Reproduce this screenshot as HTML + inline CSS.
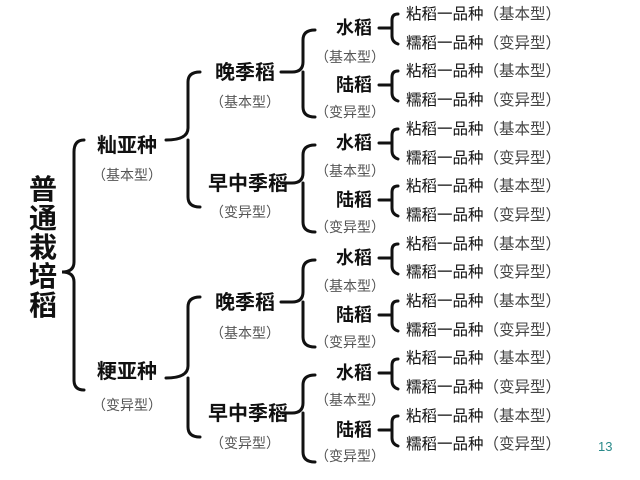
<!DOCTYPE html>
<html><head><meta charset="utf-8"><style>
body{margin:0;background:#fff}
svg{display:block}
text{font-family:"Liberation Sans","Noto Sans CJK SC",sans-serif}
.b{font-weight:bold;fill:#111}
.g{fill:#555;font-size:14px}
.lf{font-size:15.5px;fill:#111}
path{fill:none;stroke:#111;stroke-width:3;stroke-linecap:round}
</style></head><body>
<svg width="640" height="480" viewBox="0 0 640 480">
<g class="b" font-size="28" text-anchor="middle">
<text x="43" y="199">普</text><text x="43" y="228">通</text><text x="43" y="257">栽</text><text x="43" y="286">培</text><text x="43" y="315">稻</text>
</g>
<path d="M84 140 Q74 140 74 152 L74 262 Q74 272 62 272 Q74 272 74 282 L74 380 Q74 390 84 390"/>
<text class="b" x="127" y="152" font-size="20" text-anchor="middle">籼亚种</text>
<text class="g" x="127" y="180" text-anchor="middle">（基本型）</text>
<text class="b" x="127" y="378" font-size="20" text-anchor="middle">粳亚种</text>
<text class="g" x="127" y="410" text-anchor="middle">（变异型）</text>
<path d="M166 140 Q188 140 188 128 L188 82 Q188 72 200 72 M188 140 L188 197 Q188 207 200 207"/>
<path d="M166 378 Q188 378 188 366 L188 307 Q188 297 200 297 M188 378 L188 427 Q188 437 200 437"/>
<g class="b" font-size="20" text-anchor="middle">
<text x="245" y="79">晚季稻</text><text x="248" y="190">早中季稻</text>
<text x="245" y="309">晚季稻</text><text x="248" y="420">早中季稻</text>
</g>
<g class="g" text-anchor="middle">
<text x="245" y="107">（基本型）</text><text x="245" y="217">（变异型）</text>
<text x="245" y="338">（基本型）</text><text x="245" y="448">（变异型）</text>
</g>
<path d="M281 72 L292 72 Q303 72 303 62 L303 40 Q303 30 315 30 M303 72 L303 107 Q303 117 315 117"/>
<path d="M281 183 L292 183 Q303 183 303 173 L303 155 Q303 145 315 145 M303 183 L303 222 Q303 232 315 232"/>
<path d="M281 302 L292 302 Q303 302 303 292 L303 270 Q303 260 315 260 M303 302 L303 337 Q303 347 315 347"/>
<path d="M281 413 L292 413 Q303 413 303 403 L303 385 Q303 375 315 375 M303 413 L303 452 Q303 462 315 462"/>
<g class="b" font-size="18" text-anchor="middle">
<text x="354" y="34">水稻</text><text x="354" y="91">陆稻</text>
<text x="354" y="149">水稻</text><text x="354" y="206">陆稻</text>
<text x="354" y="264">水稻</text><text x="354" y="321">陆稻</text>
<text x="354" y="379">水稻</text><text x="354" y="436">陆稻</text>
</g>
<g class="g" text-anchor="middle">
<text x="350" y="62">（基本型）</text><text x="350" y="117">（变异型）</text>
<text x="350" y="176">（基本型）</text><text x="350" y="232">（变异型）</text>
<text x="350" y="291">（基本型）</text><text x="350" y="347">（变异型）</text>
<text x="350" y="405">（基本型）</text><text x="350" y="461">（变异型）</text>
</g>
<g><path d="M379 28 L392 28 M398 14 Q392 14 392 20 L392 36 Q392 42 398 44"/><path d="M379 85 L392 85 M398 71 Q392 71 392 77 L392 93 Q392 99 398 101"/></g>
<g transform="translate(0,115)"><path d="M379 28 L392 28 M398 14 Q392 14 392 20 L392 36 Q392 42 398 44"/><path d="M379 85 L392 85 M398 71 Q392 71 392 77 L392 93 Q392 99 398 101"/></g>
<g transform="translate(0,230)"><path d="M379 28 L392 28 M398 14 Q392 14 392 20 L392 36 Q392 42 398 44"/><path d="M379 85 L392 85 M398 71 Q392 71 392 77 L392 93 Q392 99 398 101"/></g>
<g transform="translate(0,345)"><path d="M379 28 L392 28 M398 14 Q392 14 392 20 L392 36 Q392 42 398 44"/><path d="M379 85 L392 85 M398 71 Q392 71 392 77 L392 93 Q392 99 398 101"/></g>
<g class="lf">
<text x="406" y="19">粘稻一品种<tspan fill="#444">（基本型）</tspan></text>
<text x="406" y="48">糯稻一品种<tspan fill="#444">（变异型）</tspan></text>
<text x="406" y="76">粘稻一品种<tspan fill="#444">（基本型）</tspan></text>
<text x="406" y="105">糯稻一品种<tspan fill="#444">（变异型）</tspan></text>
<text x="406" y="134">粘稻一品种<tspan fill="#444">（基本型）</tspan></text>
<text x="406" y="163">糯稻一品种<tspan fill="#444">（变异型）</tspan></text>
<text x="406" y="191">粘稻一品种<tspan fill="#444">（基本型）</tspan></text>
<text x="406" y="220">糯稻一品种<tspan fill="#444">（变异型）</tspan></text>
<text x="406" y="249">粘稻一品种<tspan fill="#444">（基本型）</tspan></text>
<text x="406" y="277">糯稻一品种<tspan fill="#444">（变异型）</tspan></text>
<text x="406" y="306">粘稻一品种<tspan fill="#444">（基本型）</tspan></text>
<text x="406" y="335">糯稻一品种<tspan fill="#444">（变异型）</tspan></text>
<text x="406" y="363">粘稻一品种<tspan fill="#444">（基本型）</tspan></text>
<text x="406" y="392">糯稻一品种<tspan fill="#444">（变异型）</tspan></text>
<text x="406" y="421">粘稻一品种<tspan fill="#444">（基本型）</tspan></text>
<text x="406" y="449">糯稻一品种<tspan fill="#444">（变异型）</tspan></text>
</g>
<text x="598" y="451" font-size="13" fill="#2a8a8a">13</text>
</svg>
</body></html>
